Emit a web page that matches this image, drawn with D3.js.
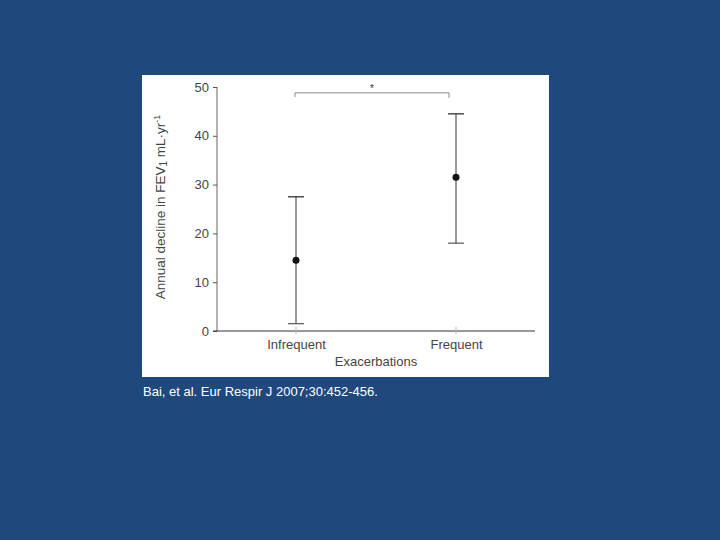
<!DOCTYPE html>
<html>
<head>
<meta charset="utf-8">
<script src="https://cdn.jsdelivr.net/npm/d3@7"></script>
<style>
  body { margin: 0; background: #1f497d; }
  svg { display: block; }
</style>
</head>
<body>
<script>
var categories = ["Infrequent", "Frequent"]
var means = [14.5, 31.5]
var upper = [27.5, 44.5]
var lower = [1.5, 18]
var yTicks = [0, 10, 20, 30, 40, 50]
var sigLevel = 48.8

var font = "Arial, 'Liberation Sans', sans-serif"

var svg = d3.select("body").append("svg")
    .attr("width", 720)
    .attr("height", 540)

svg.append("rect")
    .attr("width", 720).attr("height", 540)
    .attr("fill", "#1f497d")

// white picture panel
svg.append("rect")
    .attr("x", 142).attr("y", 75)
    .attr("width", 407).attr("height", 302)
    .attr("fill", "#ffffff")

var y = d3.scaleLinear().domain([0, 50]).range([331, 87])
var x = d3.scalePoint().domain(categories).range([296, 456])

var yAxis = svg.append("g")
    .attr("transform", "translate(217,0)")
    .call(d3.axisLeft(y).tickValues(yTicks).tickSize(4).tickPadding(4))
yAxis.select(".domain").attr("stroke", "#666").attr("d", "M0," + y(50) + "V" + y(0))
yAxis.selectAll(".tick line").attr("stroke", "#555")
yAxis.selectAll("text")
    .attr("font-family", font)
    .attr("font-size", 13)
    .attr("fill", "#444")

var xAxis = svg.append("g")
    .attr("transform", "translate(0,331)")
    .call(d3.axisBottom(x).tickSize(0).tickPadding(9))
xAxis.select(".domain").attr("stroke", "#333").attr("d", "M213,0H535")
xAxis.selectAll("text")
    .attr("font-family", font)
    .attr("font-size", 13)
    .attr("fill", "#444")

// small category ticks
svg.selectAll(".ctick")
    .data(categories)
    .enter().append("line")
    .attr("x1", function(d){ return x(d) })
    .attr("x2", function(d){ return x(d) })
    .attr("y1", 327).attr("y2", 334)
    .attr("stroke", "#bbb")

svg.append("text")
    .attr("x", 376).attr("y", 366)
    .attr("text-anchor", "middle")
    .attr("font-family", font)
    .attr("font-size", 13)
    .attr("fill", "#444")
    .text("Exacerbations")

var ylab = svg.append("text")
    .attr("transform", "translate(165,207) rotate(-90)")
    .attr("text-anchor", "middle")
    .attr("font-family", font)
    .attr("font-size", 13.5)
    .attr("fill", "#444")
ylab.append("tspan").text("Annual decline in FEV")
ylab.append("tspan").attr("font-size", 10).attr("dy", 2).text("1")
ylab.append("tspan").attr("dy", -2).text(" mL·yr")
ylab.append("tspan").attr("font-size", 9).attr("dy", -5).text("-1")

// error bars
var bars = svg.selectAll(".err")
    .data(categories)
    .enter().append("g")

bars.append("line")
    .attr("x1", function(d){ return x(d) })
    .attr("x2", function(d){ return x(d) })
    .attr("y1", function(d, i){ return y(upper[i]) })
    .attr("y2", function(d, i){ return y(lower[i]) })
    .attr("stroke", "#555")
    .attr("stroke-width", 1.2)

bars.append("line")
    .attr("x1", function(d){ return x(d) - 8 })
    .attr("x2", function(d){ return x(d) + 8 })
    .attr("y1", function(d, i){ return y(upper[i]) })
    .attr("y2", function(d, i){ return y(upper[i]) })
    .attr("stroke", "#333")
    .attr("stroke-width", 1.3)

bars.append("line")
    .attr("x1", function(d){ return x(d) - 8 })
    .attr("x2", function(d){ return x(d) + 8 })
    .attr("y1", function(d, i){ return y(lower[i]) })
    .attr("y2", function(d, i){ return y(lower[i]) })
    .attr("stroke", "#555")
    .attr("stroke-width", 1.2)

bars.append("circle")
    .attr("cx", function(d){ return x(d) })
    .attr("cy", function(d, i){ return y(means[i]) })
    .attr("r", 3.5)
    .attr("fill", "#111")

// significance bracket
svg.append("path")
    .attr("d", "M" + (x(categories[0]) - 1) + "," + (y(sigLevel) + 4) +
               "V" + y(sigLevel) + "H" + (x(categories[1]) - 7) + "V" + (y(sigLevel) + 5))
    .attr("fill", "none")
    .attr("stroke", "#888")
    .attr("stroke-width", 1)

svg.append("text")
    .attr("x", (x(categories[0]) + x(categories[1]) - 8) / 2)
    .attr("y", y(sigLevel) - 1)
    .attr("text-anchor", "middle")
    .attr("font-family", font)
    .attr("font-size", 10)
    .attr("fill", "#333")
    .text("*")

svg.append("text")
    .attr("x", 143).attr("y", 396)
    .attr("font-family", font)
    .attr("font-size", 13)
    .attr("fill", "#ffffff")
    .text("Bai, et al. Eur Respir J 2007;30:452-456.")
</script>
</body>
</html>
